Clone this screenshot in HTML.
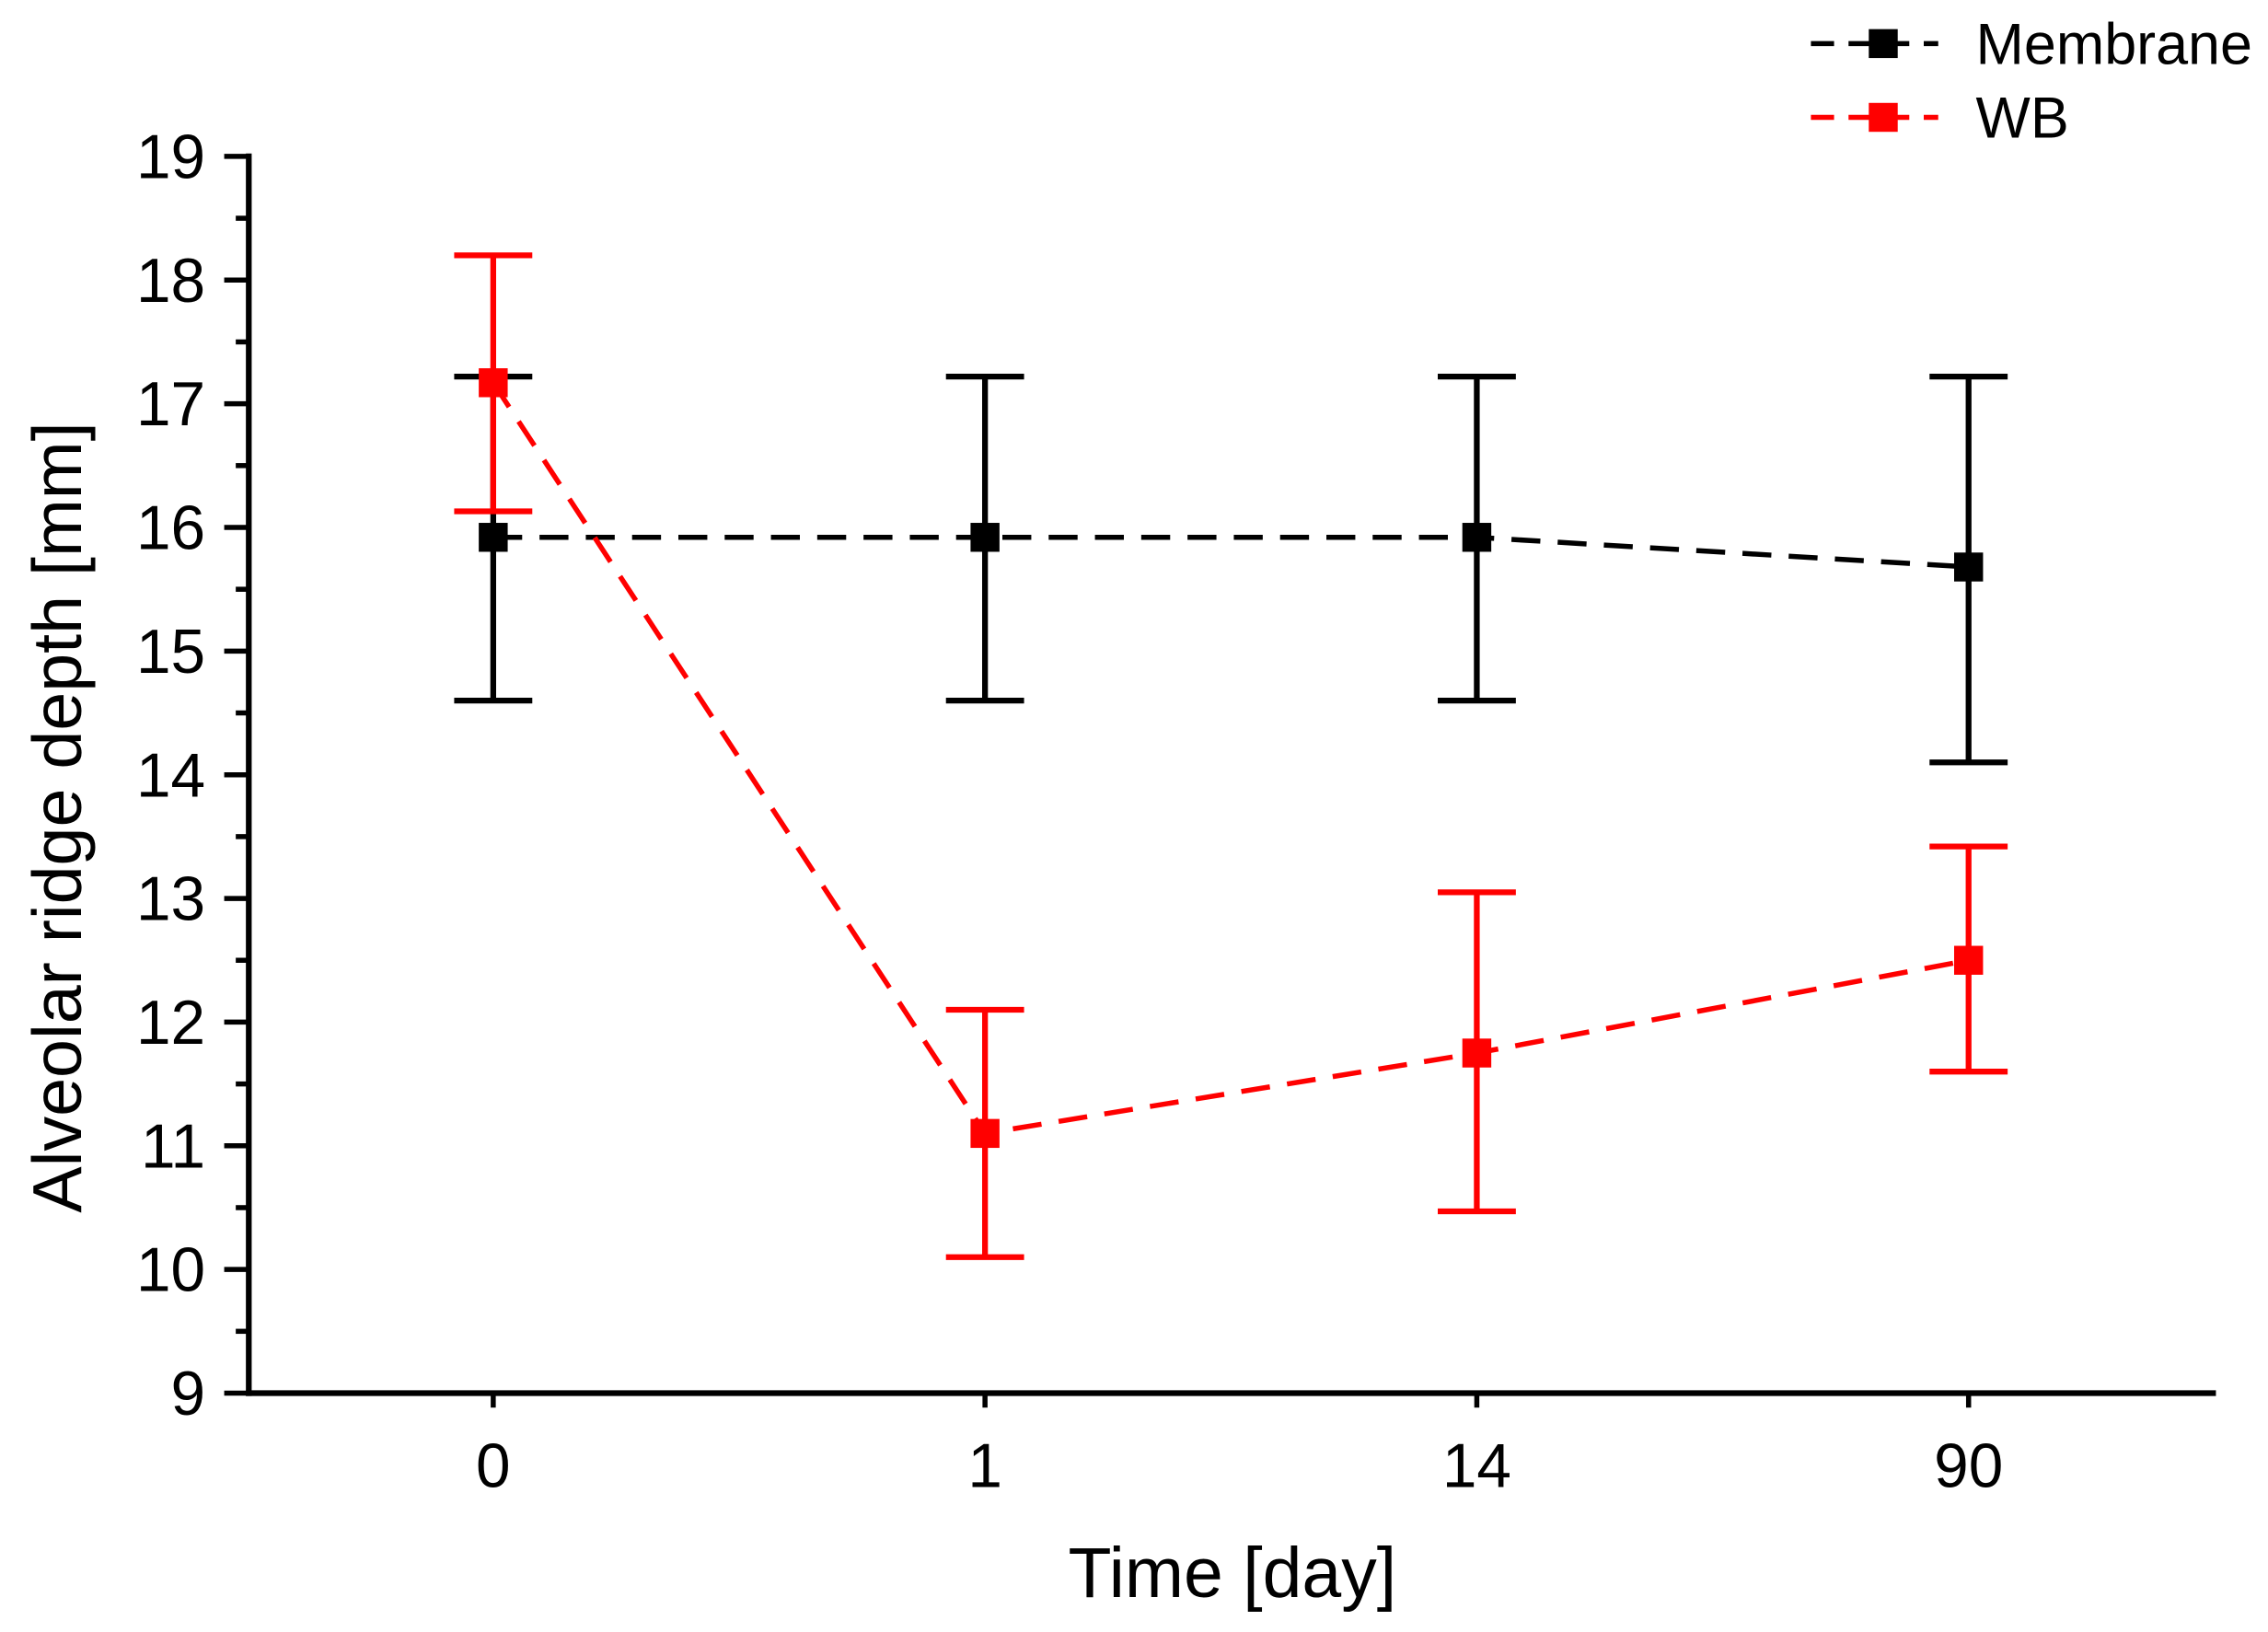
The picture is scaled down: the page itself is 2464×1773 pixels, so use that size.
<!DOCTYPE html>
<html><head><meta charset="utf-8"><style>
html,body{margin:0;padding:0;background:#fff;}
svg{display:block;}
text{font-family:"Liberation Sans",Arial,sans-serif;}
</style></head><body>
<svg id="chart" width="2464" height="1773" viewBox="0 0 1568 1128" xmlns="http://www.w3.org/2000/svg">
<g id="axes"></g>
<g id="series"></g>
<g id="legend">
 <g>
  <line x1="1252" y1="30" x2="1340" y2="30" stroke="#000" stroke-width="3.5" stroke-dasharray="16,10"/>
  <rect x="1292" y="20" width="20" height="20" fill="#000"/>
  <text x="1366" y="44" font-size="40" fill="#000">Membrane</text>
 </g>
 <g>
  <line x1="1252" y1="81" x2="1340" y2="81" stroke="#f00" stroke-width="3.5" stroke-dasharray="16,10"/>
  <rect x="1292" y="71" width="20" height="20" fill="#f00"/>
  <text x="1366" y="95" font-size="40" fill="#000">WB</text>
 </g>
</g>
</svg>
<script>
const categories = ["0","1","14","90"];
const membraneValues = [15.92, 15.92, 15.92, 15.68];
const membraneUpper = [17.22, 17.22, 17.22, 17.22];
const membraneLower = [14.6, 14.6, 14.6, 14.1];
const wbValues = [17.17, 11.1, 11.75, 12.5];
const wbUpper = [18.2, 12.1, 13.05, 13.42];
const wbLower = [16.13, 10.1, 10.47, 11.6];
const yTicks = [9,10,11,12,13,14,15,16,17,18,19];

const NS = "http://www.w3.org/2000/svg";
const X0 = 172, X1 = 1532, Y0 = 963, Y1 = 108;
const yMin = 9, yMax = 19;
function yScale(v){ return Y0 - (v - yMin) / (yMax - yMin) * (Y0 - Y1); }
function xScale(i){ return 341 + i * 340; }
function el(tag, attrs, parent){
  const e = document.createElementNS(NS, tag);
  for (const k in attrs) e.setAttribute(k, attrs[k]);
  parent.appendChild(e);
  return e;
}
const axes = document.getElementById('axes');
const series = document.getElementById('series');

const yAxis = el('line', {x1:X0, y1:Y1-2, x2:X0, y2:Y0+2, stroke:'#000', 'stroke-width':4}, axes);


const xAxis = el('line', {x1:X0-2, y1:Y0, x2:X1, y2:Y0, stroke:'#000', 'stroke-width':4}, axes);



yTicks.forEach((t, i) => {
  const y = yScale(t);
  const tk = el('line', {x1:X0-17, y1:y, x2:X0, y2:y, stroke:'#000', 'stroke-width':3.5}, axes);
  
  
  const lb = el('text', {x:X0-30, y:y+15, 'font-size':43, 'text-anchor':'end', fill:'#000'}, axes);
  lb.textContent = t;
  
  
  if (i < yTicks.length - 1) {
    const ym = yScale(t + 0.5);
    const mt = el('line', {x1:X0-9, y1:ym, x2:X0, y2:ym, stroke:'#000', 'stroke-width':3.5}, axes);
    
    
  }
});
categories.forEach((c, i) => {
  const x = xScale(i);
  const tk = el('line', {x1:x, y1:Y0, x2:x, y2:Y0+10, stroke:'#000', 'stroke-width':3.5}, axes);
  
  
  const lb = el('text', {x:x, y:1028, 'font-size':43, 'text-anchor':'middle', fill:'#000'}, axes);
  lb.textContent = c;
  
  
});
const xt = el('text', {x:852, y:1104, 'font-size':49, 'text-anchor':'middle', fill:'#000'}, axes);
xt.textContent = 'Time [day]';


const yt = el('text', {x:0, y:0, 'font-size':48, 'text-anchor':'middle', fill:'#000', transform:'translate(56,565) rotate(-90)'}, axes);
yt.textContent = 'Alveolar ridge depth [mm]';



function drawSeries(name, color, vals, up, lo){
  const g = el('g', {}, series);
  
  
  const pts = vals.map((v, i) => xScale(i) + ',' + yScale(v)).join(' ');
  const pl = el('polyline', {points:pts, fill:'none', stroke:color, 'stroke-width':3.5, 'stroke-dasharray':'20,12'}, g);
  
  
  vals.forEach((v, i) => {
    const x = xScale(i);
    const eb = el('path', {d:'M'+(x-27)+','+yScale(up[i])+'H'+(x+27)+'M'+x+','+yScale(up[i])+'V'+yScale(lo[i])+'M'+(x-27)+','+yScale(lo[i])+'H'+(x+27), stroke:color, 'stroke-width':4, fill:'none'}, g);
    
    
  });
  vals.forEach((v, i) => {
    const x = xScale(i), y = yScale(v);
    const m = el('rect', {x:x-10, y:y-10, width:20, height:20, fill:color}, g);
    
    
  });
}
drawSeries('membrane', '#000', membraneValues, membraneUpper, membraneLower);
drawSeries('wb', '#f00', wbValues, wbUpper, wbLower);
</script>
</body></html>
